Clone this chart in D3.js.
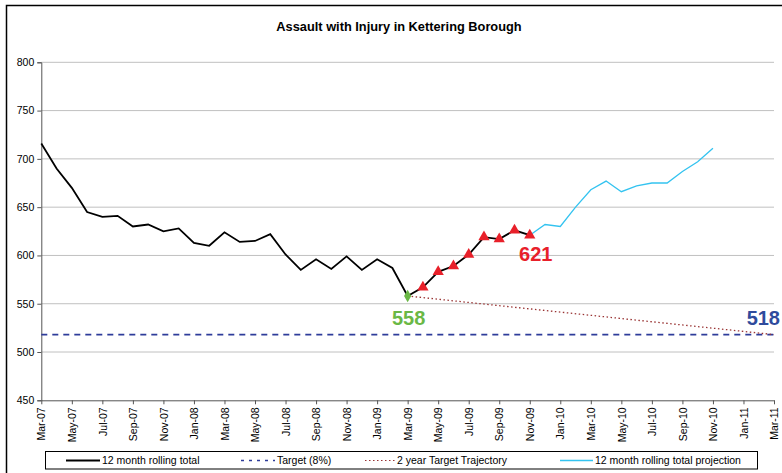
<!DOCTYPE html>
<html>
<head>
<meta charset="utf-8">
<script src="https://cdn.jsdelivr.net/npm/d3@7"></script>
<style>
  body { margin:0; background:#fff; }
  text { font-family: Arial, "Liberation Sans", sans-serif; }
</style>
</head>
<body>
<svg></svg>
<script>
// month labels on the x axis (every 2 months)
var tickLabels = ["Mar-07","May-07","Jul-07","Sep-07","Nov-07","Jan-08","Mar-08","May-08",
                  "Jul-08","Sep-08","Nov-08","Jan-09","Mar-09","May-09","Jul-09","Sep-09",
                  "Nov-09","Jan-10","Mar-10","May-10","Jul-10","Sep-10","Nov-10","Jan-11","Mar-11"];

// 12 month rolling total, Mar-07 .. Nov-09
var rolling = [716,690,670,645,640,641,630,632,625,628,613,610,624,614,615,622,601,585,
               596,586,599,585,596,587,558,567,583,589,601,619,617,626,621];

// projection, Nov-09 .. Nov-10
var projStart = 32;
var projection = [621,632,630,650,668,677,666,672,675,675,687,697,711];

var target = 518;
var baseIndex = 24;   // Mar-09
var endIndex = 48;    // Mar-11
var yTicks = [450,500,550,600,650,700,750,800];

var drawGraph = function()
{
  var screen = { width:782, height:473 };

  var svg = d3.select("svg")
              .attr("width",screen.width)
              .attr("height",screen.height);

  var plot = { left:41.3, right:774, top:62.3, bottom:400.3 };

  // outer chart frame
  svg.append("rect")
     .attr("x",6.5).attr("y",5.5)
     .attr("width",800).attr("height",500)
     .attr("fill","none")
     .attr("stroke","#000")
     .attr("stroke-width",1.5);

  svg.append("text")
     .attr("x",399).attr("y",31)
     .attr("text-anchor","middle")
     .attr("font-size",12.8)
     .attr("font-weight","bold")
     .text("Assault with Injury in Kettering Borough");

  var xScale = d3.scaleLinear()
                 .domain([0,endIndex])
                 .range([plot.left,plot.right]);

  var yScale = d3.scaleLinear()
                 .domain([450,800])
                 .range([plot.bottom,plot.top]);

  // gridlines
  svg.append("g")
     .selectAll("line")
     .data(yTicks.filter(function(d) {return d>450}))
     .enter()
     .append("line")
     .attr("x1",plot.left).attr("x2",plot.right)
     .attr("y1",function(d) {return yScale(d)})
     .attr("y2",function(d) {return yScale(d)})
     .attr("stroke","#c0c0c0")
     .attr("stroke-width",1);

  // axes
  var yAxis = d3.axisLeft(yScale)
                .tickValues(yTicks)
                .tickSize(4)
                .tickPadding(3);

  var yG = svg.append("g")
              .attr("transform","translate("+plot.left+",0)")
              .call(yAxis);
  yG.select(".domain").attr("stroke","#555");
  yG.selectAll(".tick line").attr("stroke","#555");
  yG.selectAll("text").attr("font-size",10.5).attr("fill","#000")
    .attr("font-family","Arial, 'Liberation Sans', sans-serif");

  var xAxis = d3.axisBottom(xScale)
                .tickValues(d3.range(0,endIndex+1,2))
                .tickFormat(function(d) {return tickLabels[d/2]})
                .tickSize(4)
                .tickSizeOuter(0);

  var xG = svg.append("g")
              .attr("transform","translate(0,"+plot.bottom+")")
              .call(xAxis);
  xG.select(".domain").attr("stroke","#555");
  xG.selectAll(".tick line").attr("stroke","#555");
  xG.selectAll("text")
    .attr("font-size",10.5)
    .attr("fill","#000")
    .attr("font-family","Arial, 'Liberation Sans', sans-serif")
    .attr("text-anchor","end")
    .attr("transform","rotate(-90)")
    .attr("x",-7)
    .attr("y",0)
    .attr("dy","0.35em");

  // target (8%)
  svg.append("line")
     .attr("x1",xScale(0)).attr("x2",xScale(endIndex))
     .attr("y1",yScale(target)).attr("y2",yScale(target))
     .attr("stroke","#2e3c9a")
     .attr("stroke-width",1.6)
     .attr("stroke-dasharray","6,5");

  // 2 year target trajectory
  svg.append("line")
     .attr("x1",xScale(baseIndex)).attr("x2",xScale(endIndex))
     .attr("y1",yScale(rolling[baseIndex])).attr("y2",yScale(target))
     .attr("stroke","#993333")
     .attr("stroke-width",1.3)
     .attr("stroke-dasharray","1.5,2.5");

  var line = d3.line()
               .x(function(d) {return xScale(d.i)})
               .y(function(d) {return yScale(d.v)});

  var projPts = projection.map(function(v,k) {return {i:projStart+k, v:v}});
  svg.append("path")
     .datum(projPts)
     .attr("d",line)
     .attr("fill","none")
     .attr("stroke","#33c3f0")
     .attr("stroke-width",1.3);

  var rollPts = rolling.map(function(v,i) {return {i:i, v:v}});
  svg.append("path")
     .datum(rollPts)
     .attr("d",line)
     .attr("fill","none")
     .attr("stroke","#000")
     .attr("stroke-width",1.8);

  // markers since Mar-09
  svg.append("g")
     .selectAll("path")
     .data(rollPts.filter(function(d) {return d.i>baseIndex}))
     .enter()
     .append("path")
     .attr("d",d3.symbol().type(d3.symbolTriangle).size(55))
     .attr("transform",function(d) {return "translate("+xScale(d.i)+","+yScale(d.v)+")"})
     .attr("fill","#e8202a");

  svg.append("path")
     .attr("d",d3.symbol().type(d3.symbolDiamond).size(45))
     .attr("transform","translate("+xScale(baseIndex)+","+yScale(rolling[baseIndex])+")")
     .attr("fill","#6ab845");

  // value labels
  var last = rolling.length-1;
  svg.append("text")
     .attr("x",xScale(baseIndex)+1).attr("y",yScale(rolling[baseIndex])+29)
     .attr("text-anchor","middle")
     .attr("font-size",20).attr("font-weight","bold")
     .attr("fill","#6ab845")
     .text(rolling[baseIndex]);

  svg.append("text")
     .attr("x",xScale(last)+6).attr("y",yScale(rolling[last])+26)
     .attr("text-anchor","middle")
     .attr("font-size",20).attr("font-weight","bold")
     .attr("fill","#e8202a")
     .text(rolling[last]);

  svg.append("text")
     .attr("x",xScale(endIndex)+6).attr("y",yScale(target)-10)
     .attr("text-anchor","end")
     .attr("font-size",20).attr("font-weight","bold")
     .attr("fill","#2f4b9c")
     .text(target);

  // legend
  var legend = svg.append("g").classed("legend",true);

  legend.append("rect")
        .attr("x",45.5).attr("y",451.5)
        .attr("width",712).attr("height",17.5)
        .attr("fill","#fff")
        .attr("stroke","#000")
        .attr("stroke-width",1);

  var items = [
    {name:"12 month rolling total", x1:66, x2:100, color:"#000", w:1.8, dash:null},
    {name:"Target (8%)", x1:241, x2:275, color:"#2e3c9a", w:1.6, dash:"3,5"},
    {name:"2 year Target Trajectory", x1:365, x2:395, color:"#993333", w:1.2, dash:"1.5,2.5"},
    {name:"12 month rolling total projection", x1:560, x2:593, color:"#33c3f0", w:1.3, dash:null}
  ];

  var legendLines = legend.selectAll("g.item")
                          .data(items)
                          .enter()
                          .append("g")
                          .classed("item",true);

  legendLines.append("line")
             .attr("x1",function(d) {return d.x1})
             .attr("x2",function(d) {return d.x2})
             .attr("y1",460.5).attr("y2",460.5)
             .attr("stroke",function(d) {return d.color})
             .attr("stroke-width",function(d) {return d.w})
             .attr("stroke-dasharray",function(d) {return d.dash});

  legendLines.append("text")
             .attr("x",function(d) {return d.x2+2})
             .attr("y",464.2)
             .attr("font-size",10.5)
             .text(function(d) {return d.name});
}

drawGraph();
</script>
</body>
</html>
